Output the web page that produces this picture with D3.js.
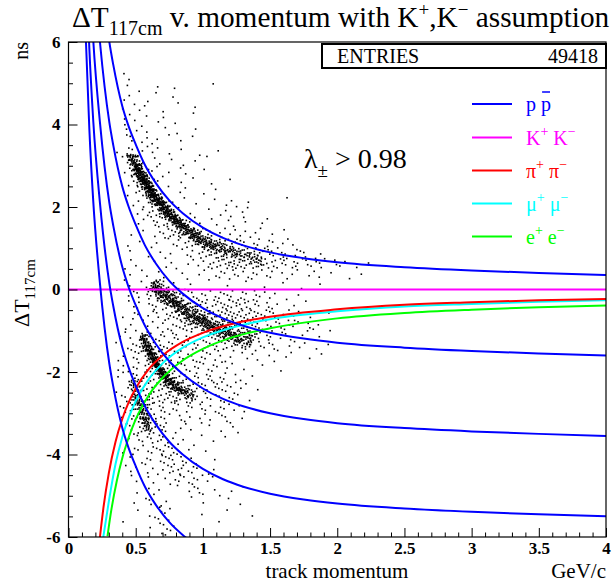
<!DOCTYPE html>
<html>
<head>
<meta charset="utf-8">
<script src="https://cdn.jsdelivr.net/npm/d3@7"></script>
<style>
  body { margin: 0; background: #fff; }
  svg { display: block; font-family: "Liberation Serif", "Times New Roman", serif; }
</style>
</head>
<body>
<svg id="chart" width="614" height="584"></svg>
<script>
// ---- axis ranges and tick labels ----
const momentumRange = [0, 4];          // GeV/c
const deltaTRange = [-6, 6];           // ns
const xTickValues = [0, 0.5, 1, 1.5, 2, 2.5, 3, 3.5, 4];
const xTickLabels = ["0", "0.5", "1", "1.5", "2", "2.5", "3", "3.5", "4"];
const yTickValues = [-6, -4, -2, 0, 2, 4, 6];
const yTickLabels = ["-6", "-4", "-2", "0", "2", "4", "6"];
const entries = 49418;

// ---- expected-time curves (momentum GeV/c, ΔT ns) ----
// proton curve; the other proton curves are the same curve one or more bunch periods earlier
const protonP = [0.13, 0.155, 0.185, 0.234, 0.304, 0.333, 0.40, 0.445, 0.50, 0.569, 0.65, 0.75, 0.85, 1.0, 1.15, 1.3, 1.5, 1.75, 2.0, 2.5, 3.0, 3.5, 4.0];
const protonT = [13.8, 11.7, 9.9, 7.95, 6.0, 5.45, 4.45, 3.98, 3.52, 3.02, 2.58, 2.16, 1.85, 1.50, 1.25, 1.07, 0.90, 0.76, 0.66, 0.54, 0.46, 0.40, 0.35];
const protonShifts = [0, -1.95, -3.9, -5.85, -7.8];
const kaonT = 0;
const pionP = [0.234, 0.26, 0.30, 0.35, 0.40, 0.45, 0.50, 0.60, 0.70, 0.85, 1.0, 1.2, 1.5, 2.0, 2.5, 3.0, 3.5, 4.0];
const pionT = [-6.0, -5.29, -4.45, -3.69, -3.14, -2.72, -2.40, -1.92, -1.60, -1.27, -1.05, -0.85, -0.66, -0.48, -0.37, -0.31, -0.26, -0.23];
const muonP = [0.259, 0.30, 0.35, 0.40, 0.45, 0.50, 0.60, 0.70, 0.85, 1.0, 1.2, 1.5, 2.0, 2.5, 3.0, 3.5, 4.0];
const muonT = [-6.0, -5.14, -4.23, -3.58, -3.09, -2.71, -2.16, -1.79, -1.41, -1.16, -0.94, -0.72, -0.53, -0.41, -0.35, -0.30, -0.26];
const electronP = [0.29, 0.32, 0.36, 0.40, 0.45, 0.50, 0.60, 0.70, 0.85, 1.0, 1.2, 1.5, 2.0, 2.5, 3.0, 3.5, 4.0];
const electronT = [-5.98, -5.32, -4.63, -4.09, -3.57, -3.15, -2.55, -2.14, -1.72, -1.44, -1.18, -0.94, -0.70, -0.57, -0.49, -0.43, -0.39];

// ---- track populations ----
// diffuse part: 2-D histogram, cells 0.05 GeV/c wide from p = 0.35 and 0.25 ns tall from ΔT = 5.25 down
// one character per cell, base-36 count, "." = empty
const scatterP0 = 0.35, scatterDP = 0.05, scatterT0 = 5.25, scatterDT = 0.25;
const scatterRows = [
  ".11",
  ".1.1..2.1.....1",
  ".11.1...11",
  ".1111..1...2",
  ".12.1.111",
  ".2.21..1.1.1",
  ".1211111.1.1",
  "1221111.11..1..1",
  ".233111.1.11.1",
  ".1443111.11..1",
  ".1255211.1.1..1..1",
  ".1.36421.11..11",
  "..1136421.11..1.1111.....1",
  "...1236531.1.1.11111",
  "...1123565321.1111.2.11",
  "..1.111346665322121121.1.1",
  ".1.1.1111234666654322221211",
  "..1.1.1111123456666655322221211",
  "..11.1.11111123455555443323222212111.1",
  ".1111.11.11.1112222122121111111.1.1.1",
  ".111123211.1.1..1..1..1.1..1..1",
  "111223455432222232222121.1.1",
  ".11212345555433343433221111.1",
  ".121212345555555554443322111.1.1",
  ".1111112235555566655432222212111",
  "11124322222233455665532221111.1",
  "112355332223233333222222111111.1",
  "112235433222222111111111.11.1.1",
  "121234543322222211.1.1..1",
  "1123344554322222211.1",
  "11344344555443232211.1",
  "12455434454322222211",
  "12455322222221222111",
  "1145542212112111211",
  ".12344321111.1.1.11",
  ".1122332111.1.1.1",
  ".12122332111.1",
  "..11212332111.1",
  ".11111123322111",
  "..1111.12222211",
  "...1111..1112111.1.1",
  "..1.1211...1.1..1.1",
  "...1.1211...1...1...1",
  ".1...1221......1",
  ".....1121"
];

// dense streaks: centre line (p, ΔT), tracks per segment, half width (ns)
const upperBandP = [0.47, 0.50, 0.54, 0.58, 0.63, 0.69, 0.76, 0.86, 0.98, 1.10, 1.25, 1.45];
const upperBandT = [3.30, 3.00, 2.75, 2.55, 2.30, 2.05, 1.80, 1.50, 1.22, 1.02, 0.86, 0.70];
const upperBandN = [40, 60, 60, 70, 70, 70, 80, 70, 50, 35, 25];
const upperBandW = 0.16;
const middleBandP = [0.62, 0.66, 0.72, 0.80, 0.90, 1.00, 1.10, 1.20, 1.30, 1.36];
const middleBandT = [0.12, 0.02, -0.15, -0.35, -0.58, -0.78, -0.95, -1.08, -1.22, -1.30];
const middleBandN = [30, 45, 55, 60, 60, 55, 50, 40, 20];
const middleBandW = 0.2;
const lowerBandP = [0.545, 0.58, 0.62, 0.66, 0.71, 0.77, 0.85, 0.93];
const lowerBandT = [-1.12, -1.35, -1.60, -1.85, -2.10, -2.30, -2.47, -2.58];
const lowerBandN = [30, 45, 50, 55, 50, 40, 25];
const lowerBandW = 0.14;
const steepBandP = [0.47, 0.51, 0.54, 0.57, 0.60];
const steepBandT = [-2.20, -2.55, -2.85, -3.15, -3.45];
const steepBandN = [20, 30, 30, 20];
const steepBandW = 0.15;

// ---- legend ----
const legendColors = ["#0000ff", "#ff00ff", "#ff0000", "#00ffff", "#00ff00"];
const legendBase = [["p", "p"], ["K", "K"], ["π", "π"], ["μ", "μ"], ["e", "e"]];
const legendCharge = [["", ""], ["+", "−"], ["+", "−"], ["+", "−"], ["+", "−"]];

// ---------------------------------------------------------------
const svg = d3.select("#chart");
const frame = { left: 68.5, right: 606, top: 42, bottom: 537 };
const x = d3.scaleLinear().domain(momentumRange).range([frame.left, frame.right]);
const y = d3.scaleLinear().domain(deltaTRange).range([frame.bottom, frame.top]);

svg.append("defs").append("clipPath").attr("id", "plotClip")
  .append("rect")
  .attr("x", frame.left).attr("y", frame.top)
  .attr("width", frame.right - frame.left).attr("height", frame.bottom - frame.top);

// points are spread with low-discrepancy (R-sequence) fractions, ROOT "scat" style
const frac = v => v - Math.floor(v);
const points = [];
let n = 0;
const g2 = 1.32471795724474602596;
scatterRows.forEach((row, r) => {
  for (let c = 0; c < row.length; c++) {
    const ch = row[c];
    if (ch === ".") continue;
    const k = parseInt(ch, 36);
    for (let i = 0; i < k; i++) {
      n++;
      const fx = frac(0.5 + n / g2), fy = frac(0.5 + n / (g2 * g2));
      points.push([x(scatterP0 + (c + fx) * scatterDP), y(scatterT0 - (r + fy) * scatterDT)]);
    }
  }
});

const g3 = 1.22074408460575947536;
let m = 0;
function addBand(P, T, N, w) {
  const wpx = Math.abs(y(0) - y(w));
  for (let s = 0; s < N.length; s++) {
    const ax = x(P[s]), ay = y(T[s]), bx = x(P[s + 1]), by = y(T[s + 1]);
    const dx = bx - ax, dy = by - ay, len = Math.hypot(dx, dy);
    const nx = -dy / len, ny = dx / len;
    for (let i = 0; i < N[s]; i++) {
      m++;
      const u = frac(0.5 + m / g3);
      const v1 = frac(0.5 + m / (g3 * g3)), v2 = frac(0.5 + m / (g3 * g3 * g3));
      const off = (v1 + v2 - 1) * wpx;
      points.push([ax + u * dx + nx * off, ay + u * dy + ny * off]);
    }
  }
}
addBand(upperBandP, upperBandT, upperBandN, upperBandW);
addBand(middleBandP, middleBandT, middleBandN, middleBandW);
addBand(lowerBandP, lowerBandT, lowerBandN, lowerBandW);
addBand(steepBandP, steepBandT, steepBandN, steepBandW);

svg.append("g").attr("clip-path", "url(#plotClip)")
  .selectAll("rect").data(points).join("rect")
  .attr("x", d => d[0] - 0.8).attr("y", d => d[1] - 0.8)
  .attr("width", 1.6).attr("height", 1.6).attr("fill", "#000");

// curves
const line = d3.line().x(d => x(d[0])).y(d => y(d[1])).curve(d3.curveMonotoneX);
const curves = svg.append("g").attr("clip-path", "url(#plotClip)")
  .attr("fill", "none").attr("stroke-width", 2);

curves.append("path")
  .attr("d", line([[momentumRange[0], kaonT], [momentumRange[1], kaonT]]))
  .attr("stroke", legendColors[1]);

const zipCurve = (ps, ts, shift) => ps.map((p, i) => [p, ts[i] + shift]);
curves.append("path").attr("d", line(zipCurve(electronP, electronT, 0))).attr("stroke", legendColors[4]);
curves.append("path").attr("d", line(zipCurve(muonP, muonT, 0))).attr("stroke", legendColors[3]);
curves.append("path").attr("d", line(zipCurve(pionP, pionT, 0))).attr("stroke", legendColors[2]);
protonShifts.forEach(s => {
  curves.append("path").attr("d", line(zipCurve(protonP, protonT, s))).attr("stroke", legendColors[0]);
});

// axes (ticks point into the frame)
const xMinor = d3.range(0, 41).map(i => i / 10).filter(v => Math.abs(v * 2 - Math.round(v * 2)) > 1e-6);
const yMinor = d3.range(-12, 13).map(i => i / 2).filter(v => Math.abs(v / 2 - Math.round(v / 2)) > 1e-6);

svg.append("g").attr("transform", `translate(0,${frame.bottom})`)
  .call(d3.axisBottom(x).tickValues(xTickValues).tickFormat((d, i) => xTickLabels[i]).tickSize(-9).tickPadding(5));
svg.append("g").attr("transform", `translate(0,${frame.bottom})`)
  .call(d3.axisBottom(x).tickValues(xMinor).tickFormat("").tickSize(-4.5));
svg.append("g").attr("transform", `translate(${frame.left},0)`)
  .call(d3.axisLeft(y).tickValues(yTickValues).tickFormat((d, i) => yTickLabels[i]).tickSize(-9).tickPadding(8));
svg.append("g").attr("transform", `translate(${frame.left},0)`)
  .call(d3.axisLeft(y).tickValues(yMinor).tickFormat("").tickSize(-4.5));

svg.selectAll(".domain").remove();
svg.selectAll(".tick line").attr("stroke", "#000").attr("stroke-width", 1);
svg.selectAll(".tick text")
  .attr("font-family", "Liberation Serif").attr("font-weight", "bold")
  .attr("font-size", 17).attr("fill", "#000");

// frame
svg.append("rect")
  .attr("x", frame.left).attr("y", frame.top)
  .attr("width", frame.right - frame.left).attr("height", frame.bottom - frame.top)
  .attr("fill", "none").attr("stroke", "#000").attr("stroke-width", 1.2);

// title
const title = svg.append("text").attr("x", 72).attr("y", 27).attr("font-size", 29.3).attr("fill", "#000");
title.append("tspan").text("ΔT");
title.append("tspan").attr("font-size", 20).attr("dy", 8).text("117cm");
title.append("tspan").attr("dy", -8).text(" v. momentum with K");
title.append("tspan").attr("font-size", 19).attr("dy", -11).text("+");
title.append("tspan").attr("dy", 11).text(",K");
title.append("tspan").attr("font-size", 19).attr("dy", -11).text("−");
title.append("tspan").attr("dy", 11).text(" assumption");

// axis titles
svg.append("text").attr("x", 337).attr("y", 578).attr("text-anchor", "middle")
  .attr("font-size", 21).text("track momentum");
svg.append("text").attr("x", 606).attr("y", 578).attr("text-anchor", "end")
  .attr("font-size", 21).text("GeV/c");
svg.append("text").attr("transform", "translate(28,42) rotate(-90)").attr("text-anchor", "end")
  .attr("font-size", 20).text("ns");
const yTitle = svg.append("text").attr("transform", "translate(29,327) rotate(-90)")
  .attr("font-size", 22);
yTitle.append("tspan").text("ΔT");
yTitle.append("tspan").attr("font-size", 15).attr("dy", 6).text("117cm");

// entries box
svg.append("rect").attr("x", 322).attr("y", 44).attr("width", 284).attr("height", 24)
  .attr("fill", "#fff").attr("stroke", "#000").attr("stroke-width", 2);
svg.append("text").attr("x", 337).attr("y", 62.5).attr("font-size", 20).text("ENTRIES");
svg.append("text").attr("x", 598).attr("y", 62.5).attr("text-anchor", "end").attr("font-size", 20).text(entries);

// selection cut annotation
const lam = svg.append("text").attr("x", 304).attr("y", 168).attr("font-size", 28);
lam.append("tspan").text("λ");
lam.append("tspan").attr("font-size", 19).attr("dy", 9).text("±");
lam.append("tspan").attr("dy", -9).text(" > 0.98");

// legend
const legendY = [104, 137.5, 170.5, 203.5, 236.5];
legendColors.forEach((col, i) => {
  const yy = legendY[i];
  svg.append("line").attr("x1", 472).attr("x2", 512).attr("y1", yy).attr("y2", yy)
    .attr("stroke", col).attr("stroke-width", 2);
  const t = svg.append("text").attr("x", 526).attr("y", yy + 7).attr("font-size", 20).attr("fill", col);
  t.append("tspan").text(legendBase[i][0]);
  if (legendCharge[i][0]) t.append("tspan").attr("font-size", 14).attr("dy", -9).text(legendCharge[i][0]);
  const second = t.append("tspan").attr("dy", legendCharge[i][0] ? 9 : 0).text(" " + legendBase[i][1]);
  if (legendCharge[i][1]) t.append("tspan").attr("font-size", 14).attr("dy", -9).text(legendCharge[i][1]);
  if (i === 0) {
    // antiproton bar over the second p
    const bb = t.node().getBBox();
    const w = second.node().getComputedTextLength();
    const pw = w * 0.66;
    svg.append("line").attr("x1", bb.x + bb.width - pw + 1).attr("x2", bb.x + bb.width - 1)
      .attr("y1", yy - 12).attr("y2", yy - 12).attr("stroke", col).attr("stroke-width", 1.5);
  }
});
</script>
</body>
</html>
